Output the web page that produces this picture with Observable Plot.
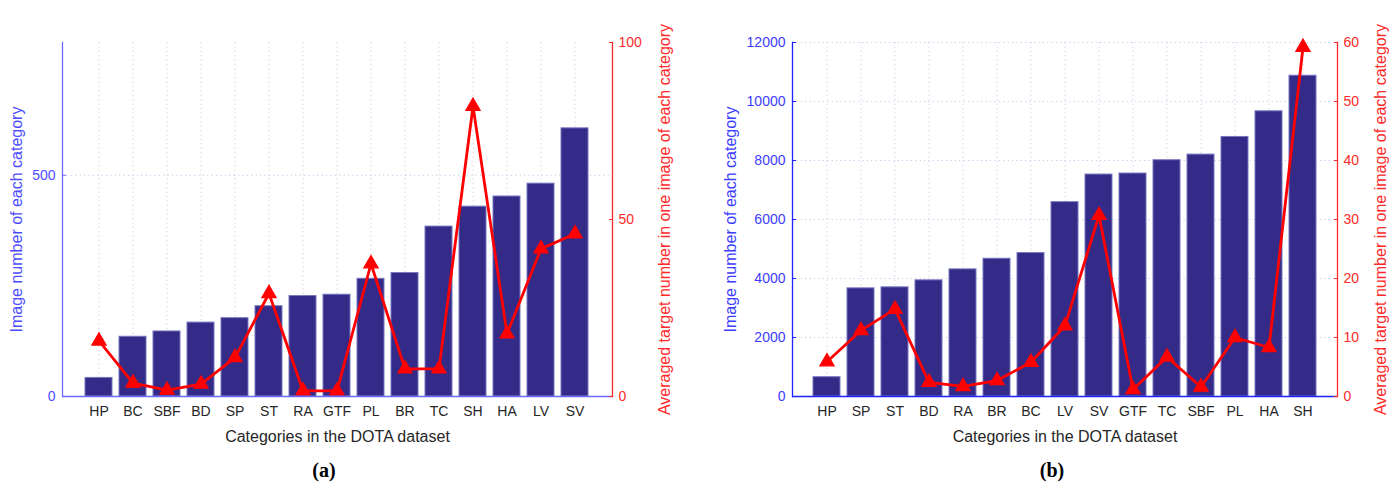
<!DOCTYPE html>
<html>
<head>
<meta charset="utf-8">
<script src="https://cdn.jsdelivr.net/npm/d3@7"></script>
<script src="https://cdn.jsdelivr.net/npm/@observablehq/plot@0.6"></script>
<style>
  body { margin: 0; background: #fff; }
  #wrap { position: relative; width: 1399px; height: 488px; overflow: hidden; background: #fff; }
  #a, #b { position: absolute; top: 0; }
  #a { left: 0; }
  #b { left: 700px; }
  .cap { position: absolute; font-family: "Liberation Serif", "DejaVu Serif", serif; font-weight: bold; font-size: 20px; color: #000; transform: translate(-50%, -50%); }
</style>
</head>
<body>
<div id="wrap">
  <div id="a"></div>
  <div id="b"></div>
  <div class="cap" style="left:324px; top:470px;">(a)</div>
  <div class="cap" style="left:1052px; top:470px;">(b)</div>
</div>
<script>
// ---- Data: panel (a) ----
const catsA = ["HP","BC","SBF","BD","SP","ST","RA","GTF","PL","BR","TC","SH","HA","LV","SV"];
const imagesA = [42,135,147,167,177,204,227,230,266,279,384,429,452,481,606];
const avgA = [15.7,3.8,1.8,3.5,11.0,29.1,1.6,1.6,37.5,7.8,7.8,82.0,17.7,41.7,46.0];
const leftTicksA = [0,500];
const rightTicksA = [0,50,100];
const leftMaxA = 800;
const rightMaxA = 100;

// ---- Data: panel (b) ----
const catsB = ["HP","SP","ST","BD","RA","BR","BC","LV","SV","GTF","TC","SBF","PL","HA","SH"];
const imagesB = [654,3666,3700,3937,4309,4670,4862,6588,7524,7558,8009,8200,8798,9667,10874];
const avgB = [5.9,11.2,14.8,2.4,1.7,2.7,5.8,12.0,30.7,1.2,6.7,1.6,10.0,8.3,59.2];
const leftTicksB = [0,2000,4000,6000,8000,10000,12000];
const rightTicksB = [0,10,20,30,40,50,60];
const leftMaxB = 12000;
const rightMaxB = 60;

const xTitle = "Categories in the DOTA dataset";
const leftTitle = "Image number of each category";
const rightTitle = "Averaged target number in one image of each category";

const H = 455;

function chart(o) {
  const k = o.leftMax / o.rightMax;
  const data = o.cats.map((c, i) => ({cat: c, img: o.images[i], avg: o.avg[i] * k}));
  return Plot.plot({
    width: o.width,
    height: H,
    marginLeft: o.marginLeft,
    marginRight: o.marginRight,
    marginTop: 42,
    marginBottom: H - 396,
    style: {fontFamily: "'Liberation Sans', Arial, sans-serif", fontSize: "14px", background: "white", overflow: "visible"},
    x: {type: "band", domain: o.cats, paddingInner: 0.2, paddingOuter: 0.6, align: 0.5},
    y: {domain: [0, o.leftMax]},
    marks: [
      Plot.ruleX(o.cats, {stroke: o.gridV, strokeDasharray: "1.2,3.2", strokeWidth: 1}),
      Plot.ruleY(o.leftTicks.filter(t => t > 0), {stroke: o.gridH, strokeDasharray: "1.2,3.2", strokeWidth: 1}),
      Plot.barY(data, {x: "cat", y: "img", fill: "#332b87", stroke: "#7676c0", strokeWidth: 1}),
      Plot.line(data, {x: "cat", y: "avg", stroke: "#ff0000", strokeWidth: 2.8}),
      Plot.dot(data, {x: "cat", y: "avg", symbol: "triangle", r: 5.3, fill: "#ff0000", stroke: "#ff0000", strokeWidth: 1.2}),
      Plot.ruleY([0], {stroke: o.axisBlue, strokeWidth: 1.3}),
      Plot.frame({anchor: "left", stroke: o.axisBlue, strokeWidth: 1.3}),
      Plot.frame({anchor: "right", stroke: "#ff2a2a", strokeWidth: 1.3}),
      Plot.axisY(o.leftTicks, {
        anchor: "left", tickSize: -4, tickPadding: 11, color: o.textBlue, stroke: o.axisBlue,
        tickFormat: d => String(d),
        label: o.leftTitleText, labelAnchor: "center", labelOffset: o.leftLabelOffset, labelArrow: "none", fontSize: 14
      }),
      Plot.axisY(o.rightTicks.map(t => t * k), {
        anchor: "right", tickSize: -4, tickPadding: 10, color: "#ff2a2a", stroke: "#ff2a2a",
        tickFormat: d => String(Math.round(d / k)),
        label: o.rightTitleText, labelAnchor: "center", labelOffset: o.rightLabelOffset, labelArrow: "none", fontSize: 14
      }),
      Plot.axisX({
        anchor: "bottom", tickSize: 0, tickPadding: 10, color: "#262626",
        label: xTitle, labelAnchor: "center", labelOffset: 45, labelArrow: "none", fontSize: 14
      })
    ]
  });
}

document.getElementById("a").append(chart({
  cats: catsA, images: imagesA, avg: avgA, leftTicks: leftTicksA, rightTicks: rightTicksA,
  leftMax: leftMaxA, rightMax: rightMaxA, width: 700, marginLeft: 62, marginRight: 88,
  gridV: "#cfcfcf", gridH: "#c8c8f0", axisBlue: "#6a6aff", textBlue: "#4d4dff",
  leftTitleText: leftTitle, rightTitleText: rightTitle, leftLabelOffset: 52, rightLabelOffset: 57
}));
document.getElementById("b").append(chart({
  cats: catsB, images: imagesB, avg: avgB, leftTicks: leftTicksB, rightTicks: rightTicksB,
  leftMax: leftMaxB, rightMax: rightMaxB, width: 699, marginLeft: 92, marginRight: 62,
  gridV: "#cfcfe6", gridH: "#c8c8f0", axisBlue: "#2020ff", textBlue: "#3d3dff",
  leftTitleText: leftTitle, rightTitleText: rightTitle, leftLabelOffset: 68, rightLabelOffset: 48
}));

// Larger axis-title font
document.querySelectorAll("svg [aria-label='y-axis label'] text, svg [aria-label='x-axis label'] text").forEach(t => t.setAttribute("font-size", "16"));
</script>
</body>
</html>
